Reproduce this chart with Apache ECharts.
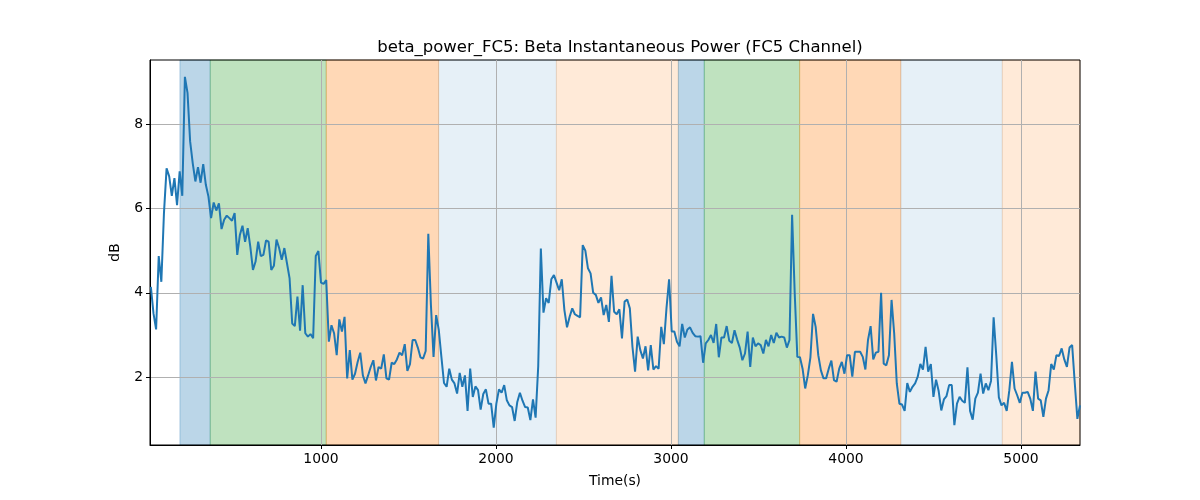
<!DOCTYPE html>
<html><head><meta charset="utf-8">
<script src="https://cdn.jsdelivr.net/npm/echarts@6/dist/echarts.min.js"></script>
<style>html,body{margin:0;padding:0;background:#fff}#c{width:1200px;height:500px}</style>
</head><body><div id="c"></div>
<script>
const chartTitle = 'beta_power_FC5: Beta Instantaneous Power (FC5 Channel)';
const xName = 'Time(s)';
const yName = 'dB';
// sampling grid of the recording (seconds)
const tFirst = 28, tLast = 5337;
const xRange = [23, 5337];
const yRange = [0.39, 9.52];
const xTickValues = [1000, 2000, 3000, 4000, 5000];
const yTickValues = [2, 4, 6, 8];

// beta power (dB), in time order
const beta1 = [4.14, 3.51, 3.13, 4.87, 4.26, 5.89, 6.95, 6.76, 6.30, 6.72, 6.08, 6.88, 6.30,
  9.12, 8.74, 7.59, 7.07, 6.64, 6.98, 6.61, 7.05, 6.56, 6.28,
  5.77, 6.14, 5.95, 6.12, 5.51, 5.73, 5.83, 5.77, 5.71, 5.89,
  4.90, 5.37, 5.59, 5.21, 5.53, 5.09, 4.54, 4.74, 5.21, 4.87,
  4.90, 5.24, 5.21, 4.54, 4.64, 5.26, 5.06, 4.78, 5.06, 4.70,
  4.34, 3.27, 3.21, 3.91, 3.10, 4.18, 3.04, 2.96, 3.02, 2.92,
  4.87, 4.99, 4.24, 4.21, 4.30, 2.84, 3.23, 3.04, 2.52, 3.37,
  3.08, 3.43, 1.97, 2.64, 1.94, 2.08, 2.36, 2.58, 2.04, 1.85,
  2.04, 2.24, 2.40, 1.92, 2.24, 2.20, 2.54, 1.97];
const beta2 = [1.94, 2.34, 2.31, 2.42, 2.58, 2.52, 2.78, 2.15, 2.31, 2.88,
  2.88, 2.70, 2.47, 2.44, 2.62, 5.40, 3.71, 2.48, 3.47, 3.12,
  2.48, 1.86, 1.77, 2.20, 1.94, 1.85, 1.61, 2.10, 1.77, 2.04,
  1.20, 2.20, 1.53, 1.78, 1.69, 1.23, 1.60, 1.71, 1.37, 1.37,
  0.80, 1.37, 1.71, 1.63, 1.81, 1.45, 1.33, 1.29, 0.96, 1.41,
  1.63, 1.44, 1.29, 1.28, 0.98, 1.47, 1.04, 2.26, 5.05, 3.53,
  3.87, 3.76, 4.32, 4.42, 4.24, 4.06, 4.32, 3.59, 3.18, 3.43,
  3.63, 3.49, 3.45, 3.42, 5.13, 5.00, 4.58, 4.46, 4.00, 3.95,
  3.76, 3.89, 3.47, 3.71, 3.31, 4.40, 3.55, 3.49, 3.61, 2.92,
  3.79];
const beta3 = [3.84, 3.63, 2.72, 2.13, 2.96, 2.64, 2.44, 2.73, 2.16, 2.76,
  2.18, 2.26, 2.20, 3.19, 2.78, 3.63, 4.32, 3.08, 3.08, 2.84,
  2.73, 3.26, 2.94, 3.13, 3.18, 3.05, 2.97, 2.96, 2.97, 2.34,
  2.80, 2.88, 3.00, 2.81, 3.26, 2.47, 2.94, 2.94, 3.21, 2.86,
  2.81, 3.11, 2.89, 2.70, 2.40, 2.56, 3.08, 2.24, 2.94, 2.73,
  2.80, 2.76, 2.56, 2.88, 2.73, 3.00, 2.81, 3.05, 2.94, 2.96,
  2.94, 2.70, 2.88, 5.85, 3.99, 2.48, 2.47, 2.20, 1.73, 2.04,
  2.47, 3.50, 3.19, 2.52, 2.16, 1.97, 1.97, 2.20, 2.39, 1.93,
  1.89, 2.20, 2.36, 2.08, 2.52, 2.52, 2.01, 2.60, 2.60];
const beta4 = [2.60, 2.48, 2.18, 2.88, 3.21, 2.42, 2.58, 2.60, 4.00, 2.32,
  2.28, 2.52, 3.83, 3.04, 1.85, 1.37, 1.35, 1.20, 1.86, 1.65,
  1.77, 1.85, 2.01, 2.31, 2.18, 2.72, 2.13, 2.31, 1.53, 1.94,
  1.67, 1.21, 1.47, 1.55, 1.81, 1.81, 0.86, 1.37, 1.53, 1.44,
  1.39, 2.23, 1.20, 0.99, 1.49, 1.63, 2.08, 1.61, 1.85, 1.69,
  1.91, 3.42, 2.52, 1.52, 1.33, 1.39, 1.20, 1.69, 2.36, 1.73,
  1.57, 1.39, 1.63, 1.63, 1.65, 1.49, 1.20, 2.13, 1.49, 1.45,
  1.06, 1.49, 1.69, 2.31, 2.18, 2.52, 2.50, 2.68, 2.42, 2.24,
  2.70, 2.76, 1.86, 1.01, 1.33];

// shaded task phases (seconds)
const phaseStart = [194, 367, 1030, 1672, 2345, 3042, 3190, 3735, 4313, 4893];
const phaseEnd   = [367, 1030, 1672, 2345, 3042, 3190, 3735, 4313, 4893, 5337];
const phaseKind  = ['blue', 'green', 'orange', 'lightblue', 'lightorange',
                    'blue', 'green', 'orange', 'lightblue', 'lightorange'];

const phaseColor = {
  blue: 'rgba(31,119,180,0.3)',
  green: 'rgba(44,160,44,0.3)',
  orange: 'rgba(255,127,14,0.3)',
  lightblue: 'rgba(31,119,180,0.11)',
  lightorange: 'rgba(255,127,14,0.16)'
};

const values = beta1.concat(beta2, beta3, beta4);
const n = values.length;
const step = (tLast - tFirst) / (n - 1);
const lineData = values.map((v, i) => [tFirst + i * step, v]);

const areaData = phaseStart.map((s, i) => [
  { xAxis: s, yAxis: yRange[0], itemStyle: { color: phaseColor[phaseKind[i]], borderColor: phaseColor[phaseKind[i]], borderWidth: 1 } },
  { xAxis: phaseEnd[i], yAxis: yRange[1] }
]);

const FONT = 'DejaVu Sans';
const chart = echarts.init(document.getElementById('c'), null, { renderer: 'canvas' });
chart.setOption({
  animation: false,
  backgroundColor: '#fff',
  title: {
    text: chartTitle, left: 615, top: 34, textAlign: 'center',
    textStyle: { fontFamily: FONT, fontSize: 16.5, fontWeight: 'normal', color: '#000' }
  },
  grid: { left: 150, right: 120, top: 60, bottom: 55, show: true, borderColor: '#000', borderWidth: 1, backgroundColor: 'transparent', z: 1.5 },
  xAxis: {
    type: 'value', min: xRange[0], max: xRange[1], splitNumber: 5, z: 1.5,
    name: xName, nameLocation: 'middle', nameGap: 29,
    nameTextStyle: { fontFamily: FONT, fontSize: 13.9, color: '#000' },
    axisLine: { show: true, lineStyle: { color: '#000', width: 1 } },
    axisTick: { show: true, inside: false, length: 4, lineStyle: { color: '#000', width: 1 }, customValues: xTickValues },
    axisLabel: { fontFamily: FONT, fontSize: 13.9, color: '#000', margin: 7, customValues: xTickValues,
      formatter: v => (xTickValues.indexOf(v) >= 0 ? String(v) : '') },
    splitLine: { show: true, lineStyle: { color: '#b0b0b0', width: 1 } }
  },
  yAxis: {
    type: 'value', min: yRange[0], max: yRange[1], splitNumber: 5, z: 1.5,
    name: yName, nameLocation: 'middle', nameGap: 28, nameRotate: 90,
    nameTextStyle: { fontFamily: FONT, fontSize: 13.9, color: '#000' },
    axisLine: { show: true, lineStyle: { color: '#000', width: 1 } },
    axisTick: { show: true, inside: false, length: 4, lineStyle: { color: '#000', width: 1 }, customValues: yTickValues },
    axisLabel: { fontFamily: FONT, fontSize: 13.9, color: '#000', margin: 7, customValues: yTickValues,
      formatter: v => (yTickValues.indexOf(v) >= 0 ? String(v) : '') },
    splitLine: { show: true, lineStyle: { color: '#b0b0b0', width: 1 } }
  },
  series: [
    {
      type: 'line', name: 'phases', data: [], z: 1, silent: true,
      markArea: { silent: true, z: 1, data: areaData, label: { show: false } }
    },
    {
      type: 'line', name: 'beta', data: lineData, z: 2, showSymbol: false, symbol: 'none',
      lineStyle: { color: '#1f77b4', width: 2 }, itemStyle: { color: '#1f77b4' }
    }
  ]
});
</script></body></html>
